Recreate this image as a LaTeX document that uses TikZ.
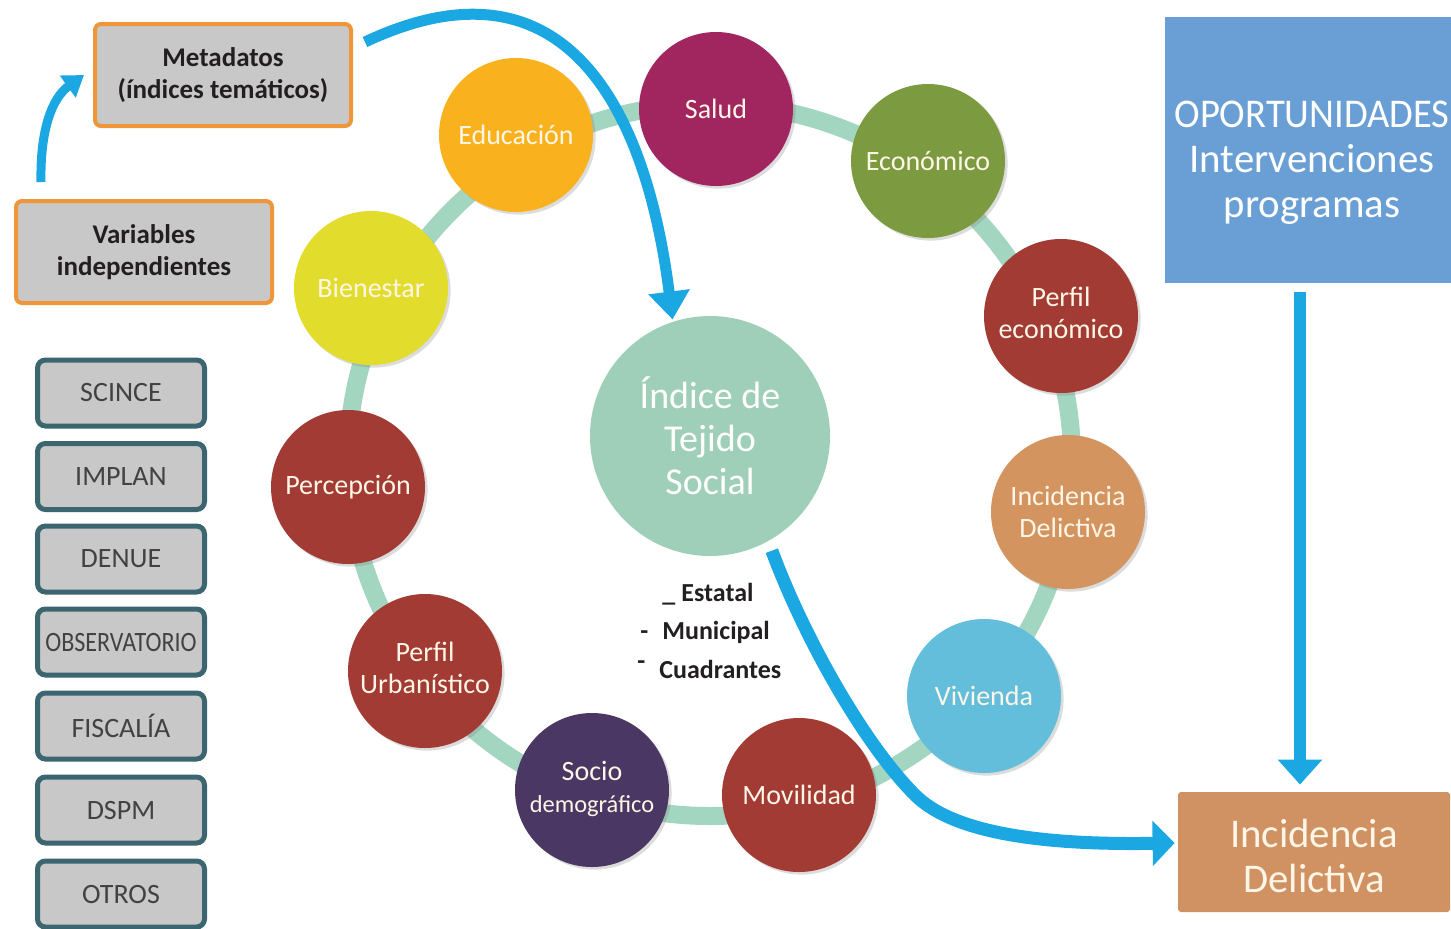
\documentclass[tikz,border=0pt]{standalone}
\usepackage{fontspec}
\setmainfont{Carlito}
\usetikzlibrary{arrows.meta,shadows,calc}
\definecolor{grayc}{HTML}{C8C8C8}
\definecolor{orangec}{HTML}{F0963A}
\definecolor{tealc}{HTML}{3B6670}
\definecolor{textc}{HTML}{231F20}
\definecolor{bluearr}{HTML}{1AA7E2}
\definecolor{bluebox}{HTML}{6A9FD6}
\definecolor{incbox}{HTML}{D09263}
\definecolor{centc}{HTML}{9FCFB9}
\definecolor{ringc}{HTML}{A3D6C0}
\definecolor{educc}{HTML}{F9B21D}
\definecolor{saludc}{HTML}{A12660}
\definecolor{econc}{HTML}{7C9A3F}
\definecolor{brickc}{HTML}{A23B33}
\definecolor{incc}{HTML}{D39460}
\definecolor{vivc}{HTML}{62BEDB}
\definecolor{socioc}{HTML}{4B3763}
\definecolor{bienc}{HTML}{E2DC2C}
\definecolor{balltext}{HTML}{FFF6E8}
\newcommand\twoln[3]{\raisebox{#1}{\begin{tabular}{@{}c@{}}#2\\#3\end{tabular}}}
\begin{document}
\begin{tikzpicture}[x=0.5pt,y=-0.5pt,
  ball/.style={circle, minimum size=77pt, inner sep=0pt, text=balltext,
    font=\fontsize{14}{16}\selectfont, align=center,
    drop shadow={opacity=0.28, shadow xshift=1.3pt, shadow yshift=-1.3pt}},
  metabox/.style={draw=orangec, line width=2pt, fill=grayc, rounded corners=3pt,
    minimum width=128pt, minimum height=51pt, align=center, inner sep=2pt,
    font=\bfseries\fontsize{13.5}{16}\selectfont, text=textc},
  srcbox/.style={draw=tealc, line width=2.5pt, fill=grayc, rounded corners=4pt,
    minimum width=83.5pt, minimum height=33pt, inner sep=1pt,
    font=\fontsize{14}{16}\selectfont, text=textc!85},
  bigtext/.style={text=white, align=center, font=\fontsize{20.4}{22.5}\selectfont},
  lvl/.style={anchor=base west, inner sep=0pt, text=textc, font=\bfseries\fontsize{13}{15}\selectfont},
  ring/.style={draw=ringc, line width=9pt},
  barrow/.style={draw=bluearr, line width=6pt, -{Triangle[width=21.5pt,length=12.5pt]}}
]
\useasboundingbox (0,0) rectangle (1451,928);

% ring
\draw[ring] (710,460) ellipse [x radius=181pt, y radius=178pt];

% central circle
\node[circle, fill=centc, minimum size=120pt, inner sep=0pt, text=white, align=center,
  font=\fontsize{19}{21.5}\selectfont] (its) at (710,436) {Índice de\\Tejido\\Social};

% theme circles
\node[ball, fill=educc]  (educ)  at (516,135) {Educación};
\node[ball, fill=saludc] (salud) at (716,109) {Salud};
\node[ball, fill=econc]  (econ)  at (928,161) {Económico};
\node[ball, fill=brickc] (perfe) at (1061,316) {\twoln{3.5pt}{Perfil}{económico}};
\node[ball, fill=incc]   (incd)  at (1068,512) {Incidencia\\Delictiva};
\node[ball, fill=vivc]   (viv)   at (984,696) {Vivienda};
\node[ball, fill=brickc] (movil) at (799,795) {Movilidad};
\node[ball, fill=socioc] (socio) at (592,790) {\twoln{2pt}{Socio}{\fontsize{12.2}{14}\selectfont demográfico}};
\node[ball, fill=brickc] (perfu) at (425,671) {\twoln{4pt}{Perfil}{Urbanístico}};
\node[ball, fill=brickc] (perc)  at (348,487) {Percepción};
\node[ball, fill=bienc]  (bien)  at (371,288) {Bienestar};

% left boxes
\node[metabox] (meta) at (223,75) {Metadatos\\(índices temáticos)};
\node[metabox] (vars) at (144,252) {Variables\\independientes};

\node[srcbox] (s1) at (121,393) {SCINCE};
\node[srcbox] (s2) at (121,476.5) {IMPLAN};
\node[srcbox] (s3) at (121,559) {DENUE};
\node[srcbox] (s4) at (121,642) {\scalebox{0.86}[1]{OBSERVATORIO}};
\node[srcbox] (s5) at (121,726) {FISCALÍA};
\node[srcbox] (s6) at (121,810) {DSPM};
\node[srcbox] (s7) at (121,894) {OTROS};

% right boxes
\node[fill=bluebox, minimum width=148pt, minimum height=133pt, inner sep=0pt] (oport) at (1313,150) {};
\node[bigtext] (oporttxt) at (1312,163) {\scalebox{0.945}[1]{OPORTUNIDADES}\\Intervenciones\\programas};
\node[fill=incbox, minimum width=136pt, minimum height=60pt, inner sep=0pt, rounded corners=1.5pt] (inc) at (1314,852) {};
\node[bigtext, text=balltext] (inctxt) at (1314,856) {Incidencia\\Delictiva};

% levels
\node[lvl] (l1) at (662,601) {\_\hspace{3pt}Estatal};
\node[lvl] (l2) at (640,639) {-\hspace{7pt}Municipal};
\node[lvl] (l3) at (637,678) {\raisebox{0.33em}{-}\hspace{7pt}Cuadrantes};

% arrows
\draw[draw=bluearr, line width=4.5pt, -{Triangle[width=13pt,length=10pt]}]
  ([xshift=13.5pt,yshift=8.5pt]vars.north west) .. controls (40,130) and (52,98) .. ([xshift=-4.5pt]meta.west);
\draw[draw=bluearr, line width=5.5pt, -{Triangle[width=20pt,length=14pt]}, shorten >=1pt]
  ([xshift=6pt,yshift=-10pt]meta.north east) .. controls (560,-50) and (645,100) .. (its.108);
\draw[draw=bluearr, line width=6.5pt, -{Triangle[width=22pt,length=11pt]}, shorten <=5pt]
  (its.-61) .. controls (805,640) and (865,745) .. (915,795)
  .. controls (955,835) and (1050,845) .. ([xshift=-1.5pt,yshift=4.5pt]inc.west);
\draw[barrow] ([xshift=-6.5pt,yshift=-4.5pt]oport.south) -- ([xshift=-7pt,yshift=3.5pt]inc.north);
\end{tikzpicture}
\end{document}
